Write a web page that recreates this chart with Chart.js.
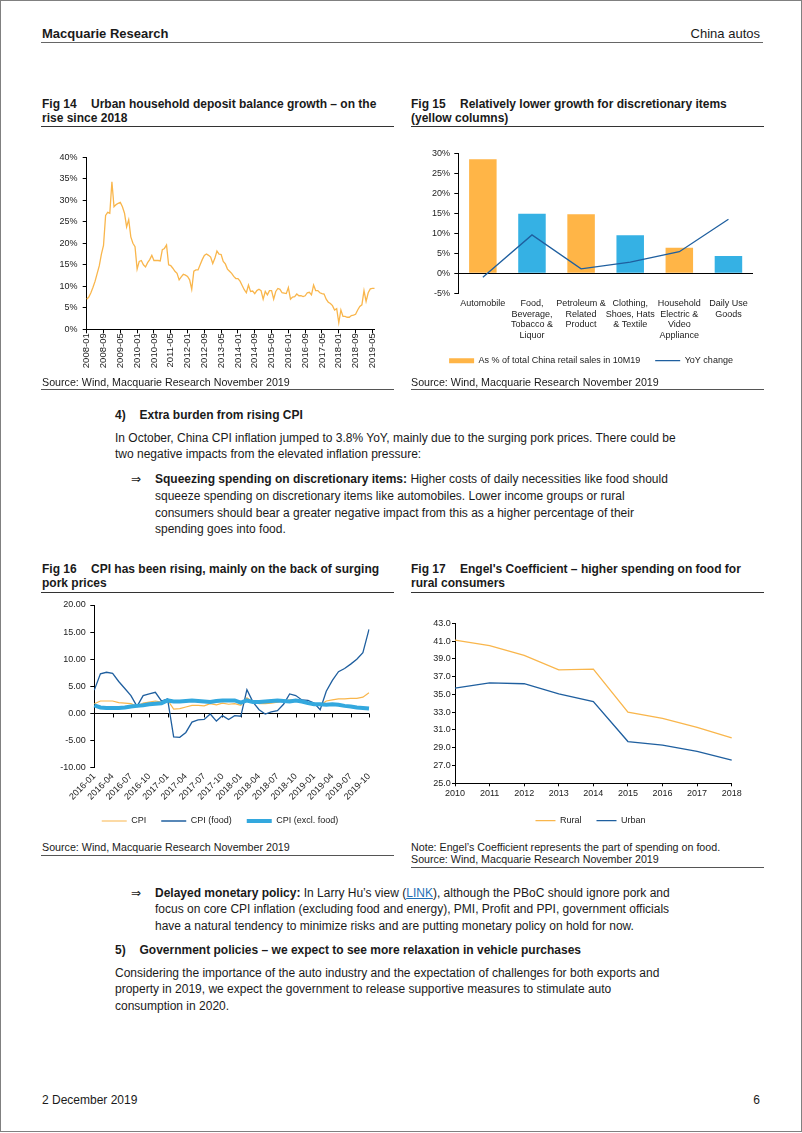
<!DOCTYPE html>
<html><head><meta charset="utf-8">
<script src="https://cdn.jsdelivr.net/npm/chart.js@4.4.1/dist/chart.umd.min.js"></script>
<style>
html,body{margin:0;padding:0;background:#fff;}
body{width:802px;height:1133px;position:relative;overflow:hidden;font-family:"Liberation Sans",Arial,Helvetica,sans-serif;color:#1a1a1a;}
.a{position:absolute;white-space:nowrap;}
.rule{position:absolute;height:0;}
.t{font-size:12px;font-weight:bold;line-height:14px;}
.t .n{display:inline-block;width:49px;}
.src{font-size:10.7px;line-height:12.5px;}
.body{font-size:12px;line-height:16.8px;}
.arrow{font-family:"DejaVu Sans",sans-serif;font-size:12px;}
canvas{position:absolute;}
a{color:#1f6fb5;text-decoration:underline;}
</style></head><body>
<div class="a" style="left:0;top:0;width:802px;height:1132px;box-sizing:border-box;border:1px solid #808080;"></div>

<div class="a" style="left:42px;top:25.5px;font-size:13px;font-weight:bold;line-height:16px;">Macquarie Research</div>
<div class="a" style="right:42px;top:25.5px;font-size:13px;line-height:16px;">China autos</div>
<div class="rule" style="left:41px;top:41.5px;width:722px;border-top:1px solid #666;"></div>

<div class="a t" style="left:42px;top:97px;"><span class="n">Fig 14</span>Urban household deposit balance growth – on the<br>rise since 2018</div>
<div class="a t" style="left:411px;top:97px;"><span class="n">Fig 15</span>Relatively lower growth for discretionary items<br>(yellow columns)</div>
<div class="rule" style="left:41px;top:126px;width:353px;border-top:1.5px solid #333;"></div>
<div class="rule" style="left:411px;top:126px;width:353px;border-top:1.5px solid #333;"></div>

<canvas id="c14" width="355" height="236" style="left:40px;top:145px;"></canvas>
<canvas id="c15" width="360" height="236" style="left:410px;top:140px;"></canvas>

<div class="a src" style="left:42px;top:375.5px;">Source: Wind, Macquarie Research November 2019</div>
<div class="a src" style="left:411px;top:375.5px;">Source: Wind, Macquarie Research November 2019</div>
<div class="rule" style="left:41px;top:389px;width:353px;border-top:1px solid #555;"></div>
<div class="rule" style="left:411px;top:389px;width:353px;border-top:1px solid #555;"></div>

<div class="a body" style="left:115px;top:406.6px;font-weight:bold;">4)</div>
<div class="a body" style="left:139.5px;top:406.6px;font-weight:bold;">Extra burden from rising CPI</div>
<div class="a body" style="left:115px;top:429.6px;">In October, China CPI inflation jumped to 3.8% YoY, mainly due to the surging pork prices. There could be<br>two negative impacts from the elevated inflation pressure:</div>
<div class="a body arrow" style="left:131px;top:471.1px;">⇒</div>
<div class="a body" style="left:155px;top:471.1px;"><b>Squeezing spending on discretionary items:</b> Higher costs of daily necessities like food should<br>squeeze spending on discretionary items like automobiles. Lower income groups or rural<br>consumers should bear a greater negative impact from this as a higher percentage of their<br>spending goes into food.</div>

<div class="a t" style="left:42px;top:562px;"><span class="n">Fig 16</span>CPI has been rising, mainly on the back of surging<br>pork prices</div>
<div class="a t" style="left:411px;top:562px;"><span class="n">Fig 17</span>Engel's Coefficient – higher spending on food for<br>rural consumers</div>
<div class="rule" style="left:41px;top:592px;width:353px;border-top:1.5px solid #333;"></div>
<div class="rule" style="left:411px;top:592px;width:353px;border-top:1.5px solid #333;"></div>

<canvas id="c16" width="355" height="241" style="left:40px;top:595px;"></canvas>
<canvas id="c17" width="370" height="241" style="left:405px;top:595px;"></canvas>

<div class="a src" style="left:42px;top:840.75px;">Source: Wind, Macquarie Research November 2019</div>
<div class="rule" style="left:41px;top:855px;width:353px;border-top:1px solid #555;"></div>
<div class="a src" style="left:411px;top:840.75px;">Note: Engel’s Coefficient represents the part of spending on food.<br>Source: Wind, Macquarie Research November 2019</div>
<div class="rule" style="left:411px;top:867px;width:353px;border-top:1px solid #555;"></div>

<div class="a body arrow" style="left:131px;top:884.6px;line-height:16.5px;">⇒</div>
<div class="a body" style="left:155px;top:884.75px;line-height:16.5px;"><b>Delayed monetary policy:</b> In Larry Hu’s view (<a>LINK</a>), although the PBoC should ignore pork and<br>focus on core CPI inflation (excluding food and energy), PMI, Profit and PPI, government officials<br>have a natural tendency to minimize risks and are putting monetary policy on hold for now.</div>
<div class="a body" style="left:115px;top:941.6px;font-weight:bold;">5)</div>
<div class="a body" style="left:139.5px;top:941.6px;font-weight:bold;">Government policies – we expect to see more relaxation in vehicle purchases</div>
<div class="a body" style="left:115px;top:964.75px;line-height:16.5px;">Considering the importance of the auto industry and the expectation of challenges for both exports and<br>property in 2019, we expect the government to release supportive measures to stimulate auto<br>consumption in 2020.</div>

<div class="a" style="left:42px;top:1092px;font-size:12px;line-height:16px;">2 December 2019</div>
<div class="a" style="right:42px;top:1092px;font-size:12px;line-height:16px;">6</div>

<script>
// ---------- data ----------
function monthLabels(y, m, count){
  const out = [];
  for (let i = 0; i < count; i++){
    out.push(y + '-' + String(m).padStart(2,'0'));
    m++; if (m > 12){ m = 1; y++; }
  }
  return out;
}
// Fig 14: urban household deposit balance growth (%), 2008-01 .. 2019-06
const depositMonths = monthLabels(2008, 1, 138);
const depositGrowth = [
  7.0, 7.5, 8.5, 9.8, 11.2, 13.0, 14.8, 17.5, 19.5, 26.5, 27.2, 27.0,
  34.3, 28.5, 29.0, 29.3, 29.5, 28.5, 27.0, 23.8, 25.5, 21.5, 20.0, 19.2,
  14.0, 15.8, 16.0, 15.0, 14.5, 15.5, 16.2, 17.2, 16.0, 16.0, 16.0, 15.9,
  18.5, 18.8, 19.6, 15.0, 14.8, 14.2, 13.5, 13.0, 11.5, 12.2, 12.8, 12.6,
  12.3, 11.5, 9.3, 13.5, 13.8, 13.8, 15.0, 16.2, 17.2, 17.5, 17.2, 16.8,
  15.3, 16.5, 18.2, 17.5, 17.4, 15.8, 15.2, 14.0, 13.5, 13.0, 12.3, 11.8,
  11.8, 11.2, 10.2, 9.2, 8.5, 10.3, 8.8, 8.9, 8.3, 9.0, 9.3, 9.0,
  7.0, 8.8, 8.0, 9.0, 9.0, 7.0, 8.8, 9.5, 9.3, 8.5, 8.4, 8.3,
  9.7, 7.0, 7.5, 7.6, 8.2, 7.8, 7.8, 7.6, 7.8, 8.5, 8.6, 8.0,
  10.3, 9.0, 9.0, 8.5, 8.3, 8.2, 7.0, 6.3, 6.0, 5.5, 4.5, 4.8,
  1.5, 4.5, 3.0, 3.0, 2.8, 2.8, 3.2, 3.3, 3.5, 4.5, 5.3, 5.7,
  9.0, 6.5, 8.5, 9.4, 9.5, 9.5
];
const depositTicks = [0, 5, 10, 15, 20, 25, 30, 35, 40];

// Fig 15: retail categories
const retailCategories = [
  'Automobile',
  ['Food,', 'Beverage,', 'Tobacco &', 'Liquor'],
  ['Petroleum &', 'Related', 'Product'],
  ['Clothing,', 'Shoes, Hats', '& Textile'],
  ['Household', 'Electric &', 'Video', 'Appliance'],
  ['Daily Use', 'Goods']
];
const retailShare = [28.5, 14.9, 14.75, 9.5, 6.4, 4.3];
const retailYoY = [-1.0, 9.6, 1.1, 2.8, 5.4, 13.5];
const retailDiscretionary = [true, false, true, false, true, false];

// Fig 16: CPI YoY (%), 2016-01 .. 2019-10
const cpiMonths = monthLabels(2016, 1, 46);
const cpiAll = [
  1.8, 2.3, 2.3, 2.3, 2.0, 1.9, 1.8, 1.3, 1.9, 2.1, 2.3, 2.1,
  2.5, 0.8, 0.9, 1.2, 1.5, 1.5, 1.4, 1.8, 1.6, 1.9, 1.7, 1.8,
  1.5, 2.9, 2.1, 1.8, 1.8, 1.9, 2.1, 2.3, 2.5, 2.5, 2.2, 1.9,
  1.7, 1.5, 2.3, 2.5, 2.7, 2.7, 2.8, 2.8, 3.0, 3.8
];
const cpiFood = [
  4.3, 7.3, 7.6, 7.4, 5.9, 4.6, 3.3, 1.3, 3.3, 3.6, 3.9, 2.3,
  2.7, -4.3, -4.4, -3.5, -1.6, -1.2, -1.1, -0.1, -1.4, -0.4, -1.1, -0.4,
  -0.5, 4.4, 2.1, 0.7, -0.1, 0.3, 0.5, 1.7, 3.6, 3.3, 2.5, 2.4,
  1.9, 0.7, 4.1, 6.1, 7.7, 8.3, 9.1, 10.0, 11.2, 15.5
];
const cpiExFood = [
  1.5, 1.1, 1.0, 1.0, 1.0, 1.1, 1.3, 1.4, 1.5, 1.7, 1.8, 1.9,
  2.4, 2.2, 2.2, 2.3, 2.4, 2.3, 2.2, 2.1, 2.3, 2.4, 2.4, 2.4,
  2.0, 2.4, 2.1, 2.1, 2.2, 2.3, 2.4, 2.3, 2.2, 2.4, 2.2, 1.9,
  1.7, 1.7, 1.6, 1.7, 1.6, 1.4, 1.3, 1.1, 1.0, 0.9
];

// Fig 17: Engel's coefficient
const engelYears = ['2010','2011','2012','2013','2014','2015','2016','2017','2018'];
const engelRural = [41.1, 40.5, 39.4, 37.75, 37.85, 33.0, 32.3, 31.3, 30.1];
const engelUrban = [35.7, 36.3, 36.2, 35.05, 34.2, 29.7, 29.3, 28.6, 27.6];

// ---------- styling ----------
const ORANGE = '#F9B64C';
const BAR_ORANGE = '#FFB547';
const BAR_BLUE = '#35B1E4';
const DARK_BLUE = '#1F5F9F';
const LIGHT_BLUE = '#33A8DE';
const INK = '#222';

Chart.defaults.font.family = '"Liberation Sans", Arial, Helvetica, sans-serif';
Chart.defaults.font.size = 9;
Chart.defaults.color = INK;
Chart.defaults.animation = false;
Chart.defaults.responsive = false;
Chart.defaults.maintainAspectRatio = false;
Chart.defaults.plugins.tooltip.enabled = false;

function legendOpts(styles, lineW){
  return {
    display: true, position: 'bottom',
    labels: {
      usePointStyle: true, pointStyleWidth: lineW, boxHeight: 5, padding: 15,
      color: INK, font: {size: 9},
      generateLabels(chart){
        const items = Chart.defaults.plugins.legend.labels.generateLabels(chart);
        items.forEach(it => { it.pointStyle = styles[it.datasetIndex]; });
        items.sort((a, b) => a.datasetIndex - b.datasetIndex);
        return items;
      }
    }
  };
}
const zeroOnly = ctx => (ctx.tick && ctx.tick.value === 0) ? '#000' : 'rgba(0,0,0,0)';
// let tick labels of a narrow axis box spill to the left instead of being clipped
const noLabelClip = s => { s._computeLabelArea = () => undefined; };

const zeroLineTicks = {
  id: 'zeroLineTicks',
  beforeDatasetsDraw(chart, args, opts){
    const {ctx, scales} = chart;
    const y0 = scales.y.getPixelForValue(0);
    ctx.save();
    ctx.strokeStyle = '#000';
    ctx.lineWidth = 1;
    ctx.beginPath();
    for (let i = opts.every; i < chart.data.labels.length; i += opts.every){
      const px = Math.round(scales.x.getPixelForValue(i)) + 0.5;
      ctx.moveTo(px, y0);
      ctx.lineTo(px, y0 + opts.length);
    }
    ctx.stroke();
    ctx.restore();
  }
};

// ---------- Fig 14 ----------
new Chart(document.getElementById('c14'), {
  type: 'line',
  data: {labels: depositMonths, datasets: [{
    data: depositGrowth, borderColor: ORANGE, borderWidth: 1.3, pointRadius: 0, tension: 0, fill: false
  }]},
  options: {
    layout: {padding: {left: 0, right: 20.5, top: 12.3, bottom: 0}},
    plugins: {legend: {display: false}},
    scales: {
      x: {
        ticks: {autoSkip: false, maxRotation: 90, minRotation: 90, padding: 0, color: INK, font: {size: 9.5},
          callback: function(v, i){ return i % 8 === 0 ? this.getLabelForValue(v) : null; }},
        grid: {display: true, drawOnChartArea: false, drawTicks: true, tickLength: 4, color: '#000'},
        border: {display: true, color: '#000'},
        afterFit: s => { s.height = 51.7; }
      },
      y: {
        min: depositTicks[0], max: depositTicks[depositTicks.length - 1],
        afterBuildTicks: s => { s.ticks = depositTicks.map(v => ({value: v})); },
        ticks: {callback: v => v + '%', padding: 5.3, color: INK, font: {size: 9}},
        grid: {drawOnChartArea: false, drawTicks: true, tickLength: 4, color: '#000'},
        border: {display: true, color: '#000'},
        afterFit: s => { s.width = 46.7; }
      }
    }
  }
});

// ---------- Fig 15 ----------
new Chart(document.getElementById('c15'), {
  type: 'bar',
  data: {labels: retailCategories, datasets: [
    {type: 'bar', label: 'As % of total China retail sales in 10M19', data: retailShare,
     backgroundColor: retailDiscretionary.map(d => d ? BAR_ORANGE : BAR_BLUE),
     barPercentage: 0.56, categoryPercentage: 1.0, order: 2},
    {type: 'line', label: 'YoY change', data: retailYoY, borderColor: DARK_BLUE, borderWidth: 1.3,
     pointRadius: 0, tension: 0, fill: false, order: 1}
  ]},
  options: {
    layout: {padding: {left: 19, right: 17, top: 13.3, bottom: 0.8}},
    plugins: {legend: legendOpts(['rect', 'line'], 25)},
    scales: {
      x: {
        ticks: {autoSkip: false, maxRotation: 0, minRotation: 0, padding: 5.5, color: INK,
          font: {size: 9, lineHeight: 1.15}},
        grid: {display: false, drawTicks: false},
        border: {display: false},
        afterFit: s => { s.height = 47.9; }
      },
      y: {
        min: -5, max: 30,
        ticks: {stepSize: 5, callback: v => v + '%', padding: 4.3, color: INK, font: {size: 9}},
        grid: {drawOnChartArea: true, drawTicks: true, tickLength: 4, color: zeroOnly, tickColor: '#000'},
        border: {display: true, color: '#000'},
        afterFit: s => { s.width = 29.3; },
        afterUpdate: noLabelClip
      }
    }
  }
});

// ---------- Fig 16 ----------
new Chart(document.getElementById('c16'), {
  type: 'line',
  data: {labels: cpiMonths, datasets: [
    {label: 'CPI', data: cpiAll, borderColor: ORANGE, borderWidth: 1.2, pointRadius: 0, tension: 0, order: 3},
    {label: 'CPI (food)', data: cpiFood, borderColor: DARK_BLUE, borderWidth: 1.3, pointRadius: 0, tension: 0, order: 2},
    {label: 'CPI (excl. food)', data: cpiExFood, borderColor: LIGHT_BLUE, borderWidth: 4, pointRadius: 0, tension: 0, order: 1}
  ]},
  plugins: [zeroLineTicks],
  options: {
    layout: {padding: {left: 31, right: 26, top: 7.7, bottom: 0.5}},
    plugins: {legend: legendOpts(['line', 'line', 'line'], 25), zeroLineTicks: {every: 3, length: 4}},
    scales: {
      x: {
        ticks: {autoSkip: false, maxRotation: 45, minRotation: 45, padding: 3.5, color: INK, font: {size: 9},
          callback: function(v, i){ return i % 3 === 0 ? this.getLabelForValue(v) : null; }},
        grid: {display: false, drawTicks: false},
        border: {display: false},
        afterFit: s => { s.height = 33.8; }
      },
      y: {
        min: -10, max: 20,
        ticks: {stepSize: 5, callback: v => v.toFixed(2), padding: 4.6, color: INK, font: {size: 9}},
        grid: {drawOnChartArea: true, drawTicks: true, tickLength: 4, color: zeroOnly, tickColor: '#000'},
        border: {display: true, color: '#000'},
        afterFit: s => { s.width = 23.3; },
        afterUpdate: noLabelClip
      }
    }
  }
});

// ---------- Fig 17 ----------
new Chart(document.getElementById('c17'), {
  type: 'line',
  data: {labels: engelYears, datasets: [
    {label: 'Rural', data: engelRural, borderColor: ORANGE, borderWidth: 1.3, pointRadius: 0, tension: 0},
    {label: 'Urban', data: engelUrban, borderColor: DARK_BLUE, borderWidth: 1.3, pointRadius: 0, tension: 0}
  ]},
  options: {
    layout: {padding: {left: 44.3, right: 43.3, top: 28.3, bottom: 0.8}},
    plugins: {legend: legendOpts(['line', 'line'], 20)},
    scales: {
      x: {
        ticks: {autoSkip: false, maxRotation: 0, minRotation: 0, padding: 2.3, color: INK, font: {size: 9}},
        grid: {display: true, drawOnChartArea: false, drawTicks: true, tickLength: 3, color: '#000'},
        border: {display: true, color: '#000'},
        afterFit: s => { s.height = 17.9; }
      },
      y: {
        min: 25, max: 43,
        ticks: {stepSize: 2, callback: v => v.toFixed(1), padding: 1.3, color: INK, font: {size: 9}},
        grid: {drawOnChartArea: false, drawTicks: true, tickLength: 3, color: '#000'},
        border: {display: true, color: '#000'},
        afterFit: s => { s.width = 5.7; },
        afterUpdate: noLabelClip
      }
    }
  }
});
</script>
</body></html>
